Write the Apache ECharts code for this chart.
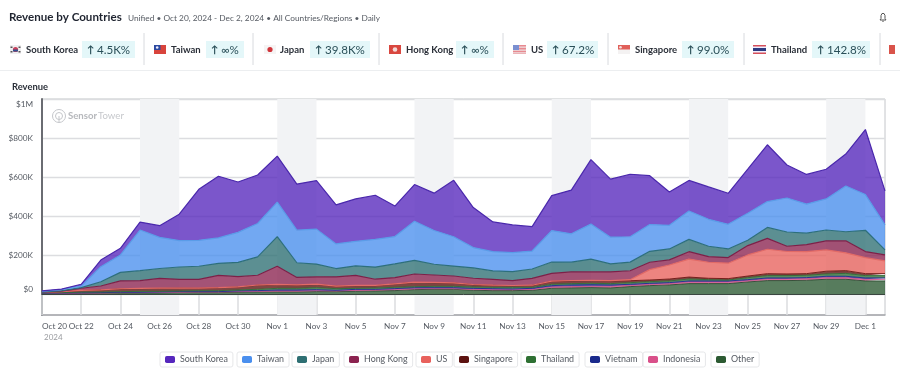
<!DOCTYPE html>
<html><head><meta charset="utf-8">
<style>html,body{margin:0;padding:0;background:#fff}#c{width:900px;height:386px}</style>
<script src="https://cdn.jsdelivr.net/npm/echarts@6/dist/echarts.min.js"></script>
</head><body><div id="c"></div>
<script>
const days = ['Oct 20','Oct 21','Oct 22','Oct 23','Oct 24','Oct 25','Oct 26','Oct 27','Oct 28','Oct 29','Oct 30','Oct 31','Nov 1','Nov 2','Nov 3','Nov 4','Nov 5','Nov 6','Nov 7','Nov 8','Nov 9','Nov 10','Nov 11','Nov 12','Nov 13','Nov 14','Nov 15','Nov 16','Nov 17','Nov 18','Nov 19','Nov 20','Nov 21','Nov 22','Nov 23','Nov 24','Nov 25','Nov 26','Nov 27','Nov 28','Nov 29','Nov 30','Dec 1','Dec 2'];
// revenue, thousands of dollars per day
const southKorea = [3.4,1.7,10,34,34,41,60,135,261,316,258,248,236,236,248,200,217,226,156,188,191,289,205,152,142,125,179,224,330,297,320,250,171,157,166,159,226,291,169,152,152,164,333,174];
const taiwan = [3.4,7,7,77,89,208,159,135,133,130,154,171,176,167,179,126,126,142,140,200,173,150,104,99,97,92,161,145,179,137,130,137,121,145,138,126,138,132,174,149,159,234,183,128];
const japan = [0.3,1.7,3.4,22,44,51,51,63,67,62,73,94,152,75,65,43,48,62,70,70,55,51,53,43,46,48,58,50,65,41,44,56,56,63,53,44,27,56,73,58,56,46,109,26];
const hongKong = [0.9,2.6,11,20,40,40,50,45,45,62,52,50,93,38,38,47,52,32,32,42,38,35,32,30,25,35,40,44,44,45,46,38,26,38,29,29,48,56,27,36,46,62,31,31];
const us = [0.3,0.4,0.5,0.6,0.8,0.8,0.9,0.9,0.9,1,1,1,1.1,1,1,0.9,0.9,0.9,0.9,1,1,0.9,0.9,0.9,0.9,1,1,1.1,1.1,1.1,5.1,53,72,92,82,79,108,125,115,113,109,91,82,65];
const singapore = [1.7,5,8.5,10,14,14,15,14,12,15,15,21,19,17,17,12,14,12,17,22,19,17,12,10,8.5,10,15,15,14,14,10,8.5,10,10,7,7,8.5,10,8.5,8.5,14,14,10,10];
const thailand = [1.7,1.7,3.4,3.4,3.4,5,3.4,3.4,5,5,5,6.8,8.5,8.5,10,8.5,5,6.8,6.8,5,6.8,6.8,6.8,6.8,8.5,5,6.8,6.8,6.8,6.8,8.5,8.5,8.5,10,6.8,5,10,12,12,12,12,15,12,12];
const vietnam = [0.8,1.7,0.8,1.7,1.7,1.7,1.7,3.4,1.7,1.7,3.4,3.4,5,5,5,3.4,5,3.4,3.4,5,5,5,5,5,3.4,5,6.8,8.5,8.5,6.8,5,5,5,5,5,5,5,5,5,5,6.8,6.8,6.8,6.8];
const indonesia = [1.7,1.7,1.7,1.7,1.7,1.7,3.4,1.7,3.4,3.4,3.4,3.4,5,5,5,3.4,5,5,6.8,5,3.4,3.4,5,5,5,5,6.8,6.8,6.8,8.5,6.8,6.8,6.8,8.5,8.5,8.5,6.8,8.5,8.5,8.5,8.5,8.5,8.5,8.5];
const other = [3.4,3.4,5.1,5.1,6.8,6.8,6.8,8.5,8.5,8.5,10.3,12,12,12,13.7,13.7,15.4,17.1,18.8,23.9,25.6,25.6,20.5,18.8,18.8,20.5,30.8,32.5,34.2,32.5,39.3,44.4,47.9,54.7,54.7,54.7,63.2,70.1,70.1,71.8,76.9,76.9,68.4,68.4];

const legendNames = ['South Korea','Taiwan','Japan','Hong Kong','US','Singapore','Thailand','Vietnam','Indonesia','Other'];
const seriesValues = [southKorea,taiwan,japan,hongKong,us,singapore,thailand,vietnam,indonesia,other];
const colors = ['#5627bd','#4a8fee','#2e6f73','#8b2350','#e8615c','#5c1210','#2e7033','#1a2a8c','#d9508a','#2c5a32'];
const lineColors = ['#4a28ac','#5a9ce8','#2d6f7c','#7c2048','#e26a66','#6a1410','#2f6a35','#1d2a90','#c9508a','#2a4a30'];
const legendLeft = [160,237,292,344,416,454,521,585,643,711];
const yTicks = [0,200000,400000,600000,800000,1000000];
const yTickLabels = ['$0','$200K','$400K','$600K','$800K','$1M'];
const weekends = [['Oct 25','Oct 27'],['Nov 1','Nov 3'],['Nov 8','Nov 10'],['Nov 15','Nov 17'],['Nov 22','Nov 24'],['Nov 29','Dec 1']];
const kpiNames = ['South Korea','Taiwan','Japan','Hong Kong','US','Singapore','Thailand'];
const kpiChanges = ['4.5K%','∞%','39.8K%','∞%','67.2%','99.0%','142.8%'];

const FONT = 'Lato, "Noto Sans", sans-serif';
const kpiLayout = [[10,26,82,135],[154,171,206,244],[264,280,310,370],[389,406,456,494],[513,531,547,598],[618,635,682,734],[753,771,812,870]];
const separators = [144,253,379,503,608,744,880];

function flag(name,x){
  const y=45,w=12,h=9,r=(a,b,c,d,f)=>({type:'rect',shape:{x:a,y:b,width:c,height:d},style:{fill:f},silent:true});
  const c=(a,b,rad,f)=>({type:'circle',shape:{cx:a,cy:b,r:rad},style:{fill:f},silent:true});
  if(name==='South Korea')return [r(x,y,w-1,h,'#f0eef0'),c(x+5.5,y+4.5,2.6,'#c8405a'),r(x+3,y+4.5,5,2,'#34508f'),r(x+.5,y+1.5,2,1.5,'#555'),r(x+8.5,y+1.5,2,1.5,'#555'),r(x+.5,y+6,2,1.5,'#555'),r(x+8.5,y+6,2,1.5,'#555')];
  if(name==='Taiwan')return [r(x,y,w,h,'#d8443c'),r(x,y,6.5,5,'#2c4aa0'),c(x+3.2,y+2.5,1.3,'#eef')];
  if(name==='Japan')return [r(x,y,w,h,'#f6f4f4'),c(x+6,y+4.5,2.6,'#d0343a')];
  if(name==='Hong Kong')return [r(x,y,w,h,'#d9473f'),c(x+6,y+4.5,2.3,'#f4d9d6')];
  if(name==='US')return [r(x,y,w+1,h,'#e88a90'),r(x,y+1.5,w+1,1.3,'#eedcdf'),r(x,y+4.5,w+1,1.3,'#eedcdf'),r(x,y+7.2,w+1,1.3,'#eedcdf'),r(x,y,6,5,'#7a8fd0')];
  if(name==='Singapore')return [r(x,y,w,h,'#f4f2f2'),r(x,y,w,4.5,'#e0605a'),c(x+2.5,y+2.2,1.3,'#f4e0dd')];
  return [r(x,y,w+1,h,'#d6505a'),r(x,y+1.5,w+1,6,'#eef'),r(x,y+3,w+1,3,'#2c3a80')];
}

const headerGraphic = [];
const txt=(x,y,t,font,fill,align)=>({type:'text',x,y,silent:true,style:{text:t,font,fill,textAlign:align||'left',textVerticalAlign:'middle'}});
headerGraphic.push(txt(9,17,'Revenue by Countries','bold 11.6px '+FONT,'#1f2430'));
headerGraphic.push(txt(128,18,'Unified • Oct 20, 2024 - Dec 2, 2024 • All Countries/Regions • Daily','8.3px '+FONT,'#555a62'));
headerGraphic.push(txt(12,87,'Revenue','bold 9.4px '+FONT,'#2a2f38'));
separators.forEach(x=>headerGraphic.push({type:'line',silent:true,shape:{x1:x,y1:33,x2:x,y2:65},style:{stroke:'#d8dade',lineWidth:1}}));
headerGraphic.push({type:'line',silent:true,shape:{x1:0,y1:70.5,x2:900,y2:70.5},style:{stroke:'#eceef0',lineWidth:1}});
kpiNames.forEach((n,i)=>{
  const [fx,nx,c0,c1]=kpiLayout[i];
  headerGraphic.push(...flag(n,fx));
  headerGraphic.push(txt(nx,50,n,'bold 9.5px '+FONT,'#2a2f38'));
  headerGraphic.push({type:'rect',silent:true,shape:{x:c0,y:41,width:c1-c0,height:17},style:{fill:'#e4f7f9'}});
  headerGraphic.push(txt(c0+5,50,'↑','bold 10px '+FONT,'#2a4f58'));
  headerGraphic.push(txt(c0+15,50,kpiChanges[i],'11.6px '+FONT,'#2a4f58'));
});
headerGraphic.push({type:'rect',silent:true,shape:{x:889,y:45,width:6,height:9},style:{fill:'#d9534a'}});
// bell
headerGraphic.push({type:'polyline',silent:true,shape:{points:[[880,20],[886,20],[885,18.5],[885,15.5],[884,13.5],[882,13.5],[881,15.5],[881,18.5],[880,20]]},style:{fill:'none',stroke:'#555',lineWidth:1}});
headerGraphic.push({type:'line',silent:true,shape:{x1:882.3,y1:21.3,x2:883.7,y2:21.3},style:{stroke:'#555',lineWidth:1}});
// watermark
headerGraphic.push({type:'circle',silent:true,shape:{cx:59,cy:116,r:6.5},style:{fill:'none',stroke:'#c4c6ca',lineWidth:1}});
headerGraphic.push({type:'circle',silent:true,shape:{cx:59,cy:116,r:3.5},style:{fill:'none',stroke:'#c4c6ca',lineWidth:1}});
headerGraphic.push({type:'line',silent:true,shape:{x1:59,y1:116,x2:59,y2:122},style:{stroke:'#c4c6ca',lineWidth:1}});
headerGraphic.push(txt(68,116,'Sensor','bold 9.6px '+FONT,'#b6b8bc'));
headerGraphic.push(txt(98,116,'Tower','9.6px '+FONT,'#c6c8cc'));

const series = [{
  name:'weekend',type:'line',data:[],silent:true,z:0,
  markArea:{silent:true,itemStyle:{color:'#f2f3f5'},label:{show:false},
    data:weekends.map(w=>[{xAxis:w[0]},{xAxis:w[1]}])}
}];
for(let i=legendNames.length-1;i>=0;i--){
  series.push({
    name:legendNames[i],type:'line',stack:'total',showSymbol:false,silent:true,z:2,
    itemStyle:{color:colors[i]},
    lineStyle:{color:lineColors[i],width:i>4?0.9:1.2},
    areaStyle:{color:colors[i],opacity:0.78},
    data:seriesValues[i].map(v=>v*1000)
  });
}
series[series.length-1].markLine={silent:true,symbol:'none',label:{show:false},animation:false,
  lineStyle:{color:'#3a4640',width:1,type:'solid'},data:[{yAxis:0}]};

const labelFont=8.2;
const option = {
  animation:false,
  textStyle:{fontFamily:FONT},
  grid:{left:42,right:15,top:99,bottom:71,show:true,borderColor:'#c4c6ca',borderWidth:1,backgroundColor:'transparent'},
  legend:legendNames.map((n,i)=>({
    data:[n],left:legendLeft[i],top:352,icon:'roundRect',itemWidth:10,itemHeight:7,itemGap:5,
    padding:[3,5,3,5],borderColor:'#e6e7e9',borderWidth:1,borderRadius:2,selectedMode:false,
    itemStyle:{color:colors[i],opacity:1},
    textStyle:{fontSize:8.9,color:'#555a62',fontFamily:FONT,padding:[0,0,0,0]}
  })),
  xAxis:{type:'category',boundaryGap:false,data:days,position:'bottom',
    axisLine:{onZero:false,lineStyle:{color:'#a6a8ac',width:1.5}},
    axisTick:{inside:true,length:20,interval:1,lineStyle:{color:'#dcdde0',width:1.5}},
    axisLabel:{interval:1,margin:7,color:'#555a62',fontSize:labelFont,alignMinLabel:'left',showMinLabel:true,
      formatter:(v,i)=>i===0?v+'\n{y|2024}':v,
      rich:{y:{color:'#9a9ca0',fontSize:8,padding:[3,0,0,2]}}},
    splitLine:{show:false}},
  yAxis:{type:'value',min:-106000,max:1000000,
    axisLine:{show:true,lineStyle:{color:'#6a6c72',width:2}},
    axisTick:{show:false,customValues:yTicks},
    splitLine:{show:true,lineStyle:{color:'#dcdde0',width:1.3}},
    axisLabel:{customValues:yTicks,margin:9,color:'#555a62',fontSize:labelFont,
      formatter:v=>{const l=yTickLabels[yTicks.indexOf(v)];if(v===0)return '{d|'+l+'}';if(v===1000000)return '{u|'+l+'}';return l;},
      rich:{d:{padding:[0,0,10,0],fontSize:labelFont,color:'#555a62'},u:{padding:[11,0,0,0],fontSize:labelFont,color:'#555a62'}}}},
  series,
  graphic:headerGraphic
};
echarts.init(document.getElementById('c'),null,{renderer:'canvas'}).setOption(option);
</script></body></html>
